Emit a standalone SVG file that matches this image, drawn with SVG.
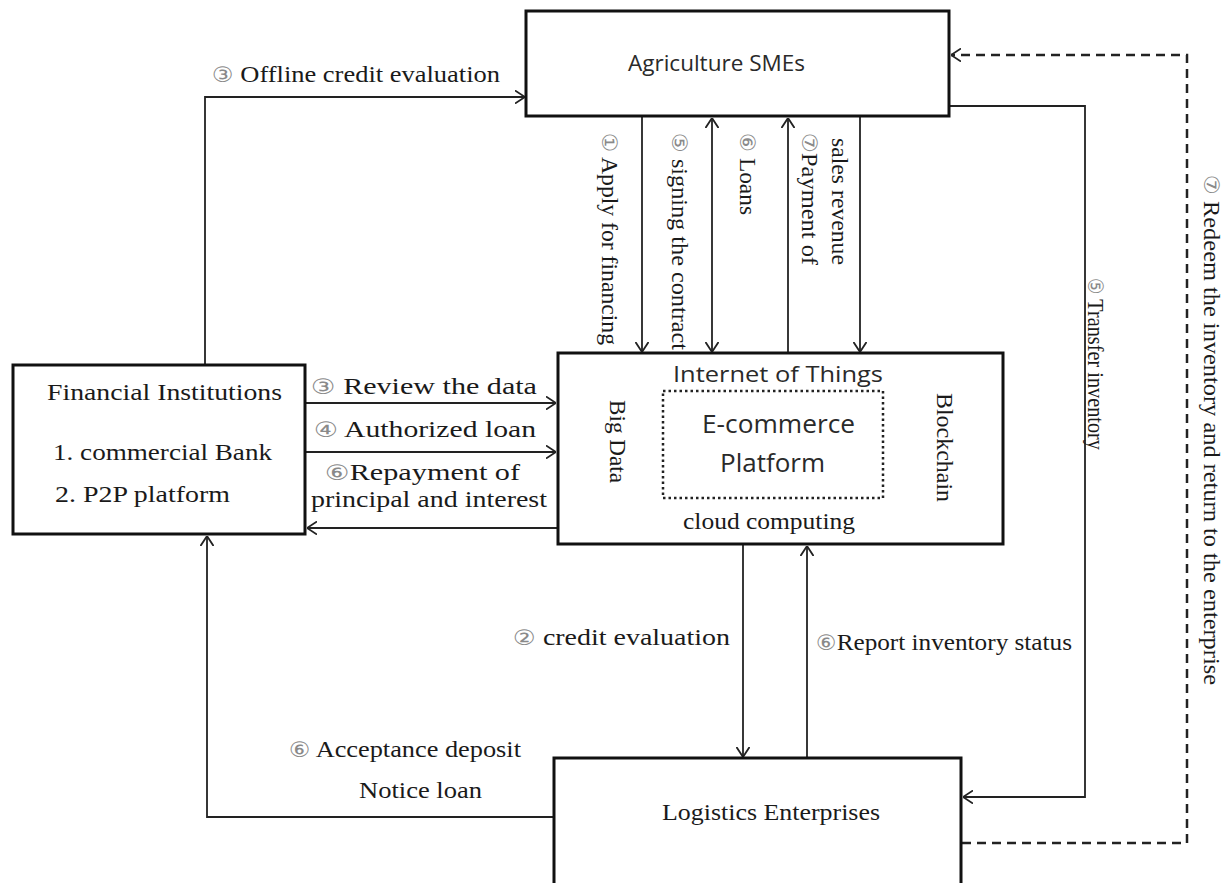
<svg xmlns="http://www.w3.org/2000/svg" width="1228" height="883" viewBox="0 0 1228 883">
<style>
.box{fill:#fff;stroke:#111;stroke-width:3}
.dot{fill:none;stroke:#222;stroke-width:2.5;stroke-dasharray:2.5 3}
.ln{fill:none;stroke:#222;stroke-width:1.8}
.dash{fill:none;stroke:#222;stroke-width:2.5;stroke-dasharray:9 6}
.se{font-family:"Liberation Serif","Times New Roman",serif;font-size:23px;fill:#1a1a1a}
.sa{font-family:"Open Sans","Liberation Sans",sans-serif;fill:#2a2a2a}
.c{font-family:"DejaVu Sans",sans-serif;fill:#8a8a8a;font-size:21px}
</style>
<defs>
<marker id="ah" viewBox="0 0 10 14" refX="10" refY="7" markerWidth="10" markerHeight="14" markerUnits="userSpaceOnUse" orient="auto-start-reverse">
<path d="M0,0.5 L10,7 L0,13.5" fill="none" stroke="#222" stroke-width="1.8"/>
</marker>
</defs>
<rect width="1228" height="883" fill="#fff"/>

<g id="connectors">
<path class="ln" d="M205,365 V97 H525" marker-end="url(#ah)"/>
<path class="ln" d="M642,117 V352" marker-end="url(#ah)"/>
<path class="ln" d="M712,118 V352" marker-start="url(#ah)" marker-end="url(#ah)"/>
<path class="ln" d="M788,353 V118" marker-end="url(#ah)"/>
<path class="ln" d="M860,117 V352" marker-end="url(#ah)"/>
<path class="ln" d="M305,403 H556" marker-end="url(#ah)"/>
<path class="ln" d="M305,452 H556" marker-end="url(#ah)"/>
<path class="ln" d="M558,528 H307" marker-end="url(#ah)"/>
<path class="ln" d="M743,545 V757" marker-end="url(#ah)"/>
<path class="ln" d="M807,758 V546" marker-end="url(#ah)"/>
<path class="ln" d="M554,817 H207 V536" marker-end="url(#ah)"/>
<path class="ln" d="M950,106 H1085 V797 H963" marker-end="url(#ah)"/>
<path class="dash" d="M962,843 H1187 V55 H951" marker-end="url(#ah)"/>

<text class="se" x="212" y="82" textLength="288" lengthAdjust="spacingAndGlyphs"><tspan class="c">③</tspan> Offline credit evaluation</text>
<text class="se" x="311" y="394" textLength="226" lengthAdjust="spacingAndGlyphs"><tspan class="c">③</tspan> Review the data</text>
<text class="se" x="314" y="437" textLength="222" lengthAdjust="spacingAndGlyphs"><tspan class="c">④</tspan> Authorized loan</text>
<text class="se" x="325" y="480" textLength="195" lengthAdjust="spacingAndGlyphs"><tspan class="c">⑥</tspan>Repayment of</text>
<text class="se" x="311" y="507" textLength="236" lengthAdjust="spacingAndGlyphs">principal and interest</text>
<text class="se" x="513" y="645" textLength="217" lengthAdjust="spacingAndGlyphs"><tspan class="c">②</tspan> credit evaluation</text>
<text class="se" x="816" y="650" textLength="256" lengthAdjust="spacingAndGlyphs"><tspan class="c">⑥</tspan>Report inventory status</text>
<text class="se" x="289" y="757" textLength="232" lengthAdjust="spacingAndGlyphs"><tspan class="c">⑥</tspan> Acceptance deposit</text>
<text class="se" x="359" y="798" textLength="123" lengthAdjust="spacingAndGlyphs">Notice loan</text>

<text class="se" transform="translate(602,133) rotate(90)" textLength="212" lengthAdjust="spacingAndGlyphs"><tspan class="c">①</tspan> Apply for financing</text>
<text class="se" transform="translate(672,133) rotate(90)" textLength="217" lengthAdjust="spacingAndGlyphs"><tspan class="c">⑤</tspan> signing the contract</text>
<text class="se" transform="translate(740,133) rotate(90)" textLength="82" lengthAdjust="spacingAndGlyphs"><tspan class="c">⑥</tspan> Loans</text>
<text class="se" transform="translate(802,133) rotate(90)" textLength="132" lengthAdjust="spacingAndGlyphs"><tspan class="c">⑦</tspan>Payment of</text>
<text class="se" transform="translate(832,138) rotate(90)" textLength="127" lengthAdjust="spacingAndGlyphs">sales revenue</text>
<text class="se" transform="translate(1088,278) rotate(90)" textLength="172" lengthAdjust="spacingAndGlyphs"><tspan class="c">⑤</tspan> Transfer inventory</text>
<text class="se" transform="translate(1204,175) rotate(90)" textLength="510" lengthAdjust="spacingAndGlyphs"><tspan class="c">⑦</tspan> Redeem the inventory and return to the enterprise</text>
</g>

<g id="agri">
<rect class="box" x="526" y="11" width="423" height="105"/>
<text class="sa" x="628" y="71" font-size="22" textLength="177" lengthAdjust="spacingAndGlyphs">Agriculture SMEs</text>
</g>

<g id="platform">
<rect class="box" x="558" y="353" width="445" height="191"/>
<rect class="dot" x="663" y="391" width="220" height="107"/>
<text class="sa" x="673" y="382" font-size="22" textLength="210" lengthAdjust="spacingAndGlyphs">Internet of Things</text>
<text class="sa" x="702" y="433" font-size="26" textLength="153" lengthAdjust="spacingAndGlyphs">E-commerce</text>
<text class="sa" x="720" y="472" font-size="26" textLength="105" lengthAdjust="spacingAndGlyphs">Platform</text>
<text class="se" x="683" y="529" textLength="172" lengthAdjust="spacingAndGlyphs">cloud computing</text>
<text class="se" transform="translate(610,400) rotate(90)" textLength="83" lengthAdjust="spacingAndGlyphs">Big Data</text>
<text class="se" transform="translate(937,393) rotate(90)" textLength="109" lengthAdjust="spacingAndGlyphs">Blockchain</text>
</g>

<g id="financial">
<rect class="box" x="13" y="365" width="292" height="169"/>
<text class="se" x="47" y="400" font-size="24" textLength="235" lengthAdjust="spacingAndGlyphs">Financial Institutions</text>
<text class="se" x="53" y="460" font-size="24" textLength="219" lengthAdjust="spacingAndGlyphs">1. commercial Bank</text>
<text class="se" x="55" y="502" font-size="24" textLength="175" lengthAdjust="spacingAndGlyphs">2. P2P platform</text>
</g>

<g id="logistics">
<rect class="box" x="554" y="758" width="407" height="140"/>
<text class="se" x="662" y="820" font-size="24" textLength="218" lengthAdjust="spacingAndGlyphs">Logistics Enterprises</text>
</g>
</svg>
